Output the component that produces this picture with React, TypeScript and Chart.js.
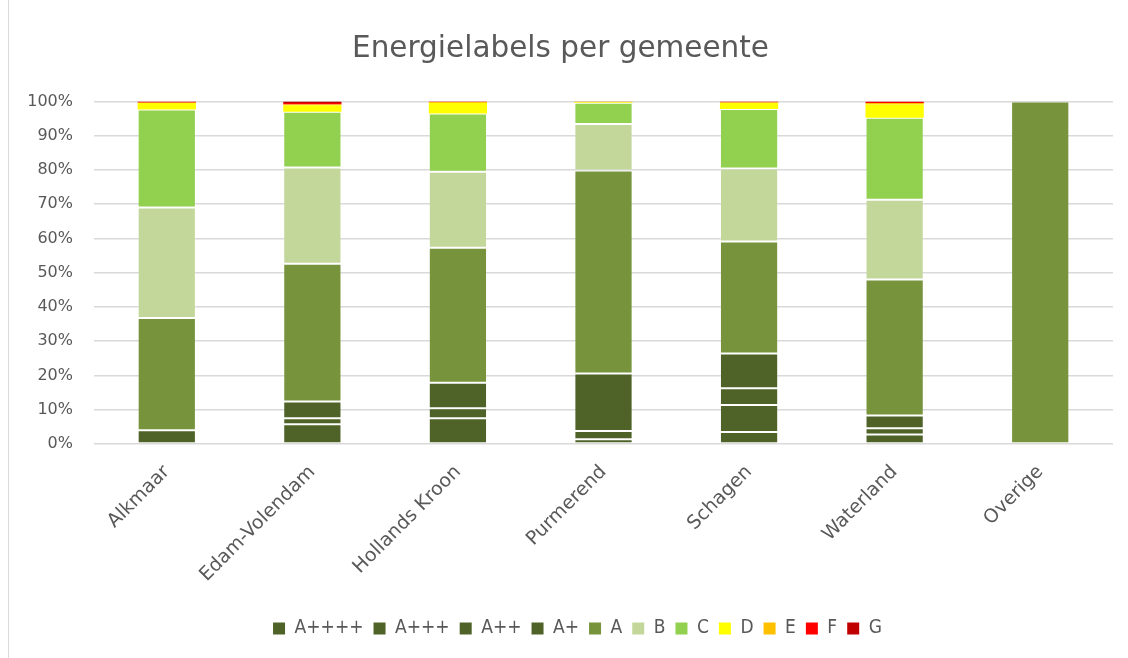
import React, { useEffect, useRef } from "react";
import { Chart, registerables } from "chart.js";

Chart.register(...registerables);

const categories = ["Alkmaar", "Edam-Volendam", "Hollands Kroon", "Purmerend", "Schagen", "Waterland", "Overige"];
const seriesNames = ["A++++", "A+++", "A++", "A+", "A", "B", "C", "D", "E", "F", "G"];

const aPlus4 = [0, 0, 0, 0, 3.5, 0, 0];
const aPlus3 = [0, 5.8, 7.5, 1.4, 7.9, 2.8, 0];
const aPlus2 = [0, 1.7, 2.9, 2.4, 4.9, 1.8, 0];
const aPlus1 = [4.0, 4.9, 7.5, 16.8, 10.1, 3.7, 0];
const labelA = [32.8, 40.2, 39.4, 59.2, 32.7, 39.7, 100];
const labelB = [32.2, 28.1, 22.2, 13.6, 21.3, 23.3, 0];
const labelC = [28.6, 16.3, 17.0, 6.2, 17.4, 23.9, 0];
const labelD = [2.0, 1.9, 3.0, 0.3, 1.8, 3.9, 0];
const labelE = [0, 0.2, 0.3, 0, 0.1, 0.4, 0];
const labelF = [0.4, 0.4, 0.2, 0.1, 0.3, 0.5, 0];
const labelG = [0, 0.5, 0, 0, 0, 0, 0];

const seriesValues = [aPlus4, aPlus3, aPlus2, aPlus1, labelA, labelB, labelC, labelD, labelE, labelF, labelG];
const seriesColors = ["#4F6228", "#4F6228", "#4F6228", "#4F6228", "#77933C", "#C4D79B", "#92D050", "#FFFF00", "#FFC000", "#FF0000", "#C00000"];
const seriesBorders = [1, 1, 1, 1, 1, 1, 1, 0, 0, 0, 0];

const yTicks = [0, 10, 20, 30, 40, 50, 60, 70, 80, 90, 100];

const FONT = "'DejaVu Sans', sans-serif";
const FONT_C = "'DejaVu Sans Condensed', 'DejaVu Sans', sans-serif";
const TEXT = "#595959";

const legendShift = {
  id: "legendShift",
  afterLayout(chart: any) {
    const l = chart.legend;
    if (l) {
      l.left += 17;
      l.right += 17;
    }
  },
};

export default function App() {
  const ref = useRef<HTMLCanvasElement | null>(null);

  useEffect(() => {
    if (!ref.current) return;
    const chart = new Chart(ref.current, {
      type: "bar",
      data: {
        labels: categories,
        datasets: seriesNames.map((name, i) => ({
          label: name,
          data: seriesValues[i],
          backgroundColor: seriesColors[i],
          borderColor: "rgba(255,255,255,0.16)",
          borderWidth: seriesBorders[i],
          borderSkipped: false,
          categoryPercentage: 0.4,
          barPercentage: 1,
        })),
      },
      options: {
        animation: false,
        responsive: false,
        maintainAspectRatio: false,
        layout: { padding: { left: 8, right: 15, top: 0, bottom: 10 } },
        plugins: {
          title: {
            display: true,
            text: "Energielabels per gemeente",
            color: TEXT,
            font: { family: FONT, size: 29.5, weight: "normal" },
            padding: { top: 32, bottom: 34 },
          },
          legend: {
            position: "bottom",
            labels: {
              color: TEXT,
              font: { family: FONT_C, size: 19 },
              boxWidth: 12,
              boxHeight: 12,
              padding: 10,
              generateLabels: (c: any) => {
                const items = Chart.defaults.plugins.legend.labels.generateLabels(c);
                return items.map((it: any) => ({ ...it, lineWidth: 0, strokeStyle: "transparent" }));
              },
            },
          },
          tooltip: { enabled: false },
        },
        scales: {
          x: {
            stacked: true,
            grid: { display: false },
            border: { display: false },
            ticks: {
              color: TEXT,
              font: { family: FONT, size: 19 },
              maxRotation: 45,
              minRotation: 45,
              padding: 9,
            },
            afterFit: (scale: any) => {
              scale.height = 165;
            },
          },
          y: {
            stacked: true,
            min: 0,
            max: 100,
            afterBuildTicks: (scale: any) => {
              scale.ticks = yTicks.map((v) => ({ value: v }));
            },
            grid: { color: "#d9d9d9", lineWidth: 1.5, drawTicks: false },
            border: { display: false },
            ticks: {
              color: TEXT,
              font: { family: FONT, size: 16 },
              padding: 21,
              callback: (v: any) => v + "%",
            },
            afterFit: (scale: any) => {
              scale.width = 86;
            },
          },
        },
      },
      plugins: [legendShift],
    });
    return () => chart.destroy();
  }, []);

  return (
    <div style={{ position: "fixed", left: 0, top: 0, width: 1128, height: 658, background: "#fff" }}>
      <div style={{ position: "absolute", left: 8, top: 0, width: 1, height: 658, background: "#d9d9d9" }} />
      <canvas ref={ref} width={1128} height={658} style={{ position: "absolute", left: 0, top: 0 }} />
    </div>
  );
}
